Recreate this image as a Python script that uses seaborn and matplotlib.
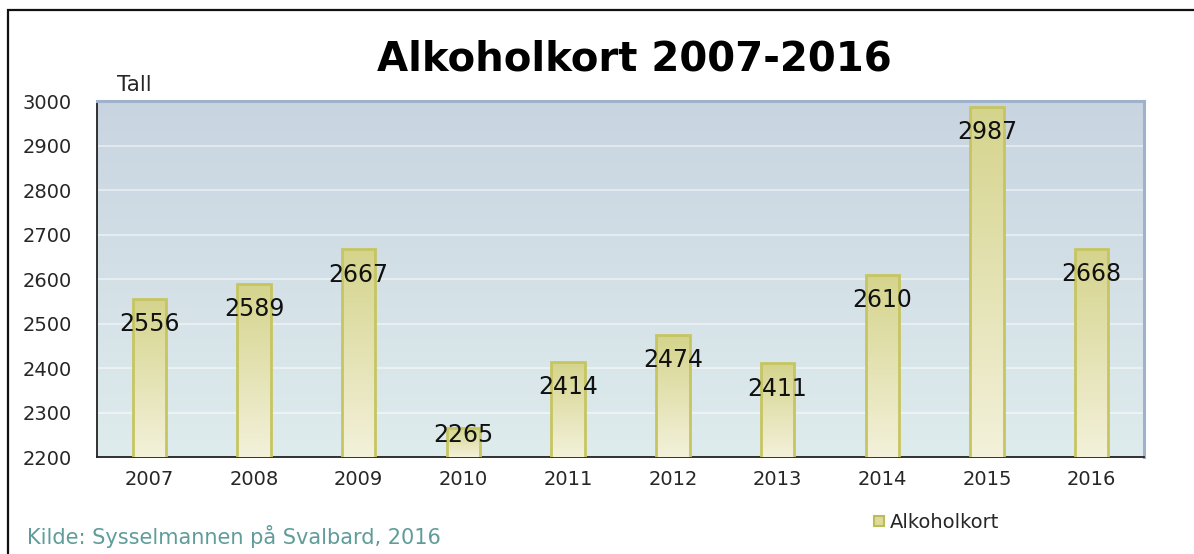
import numpy as np
import pandas as pd
import seaborn as sns
import matplotlib.pyplot as plt
from matplotlib.colors import LinearSegmentedColormap
from matplotlib.patches import Rectangle
from matplotlib.lines import Line2D

years = ["2007", "2008", "2009", "2010", "2011", "2012", "2013", "2014", "2015", "2016"]
alkoholkort = [2556, 2589, 2667, 2265, 2414, 2474, 2411, 2610, 2987, 2668]
y_ticks = [2200, 2300, 2400, 2500, 2600, 2700, 2800, 2900, 3000]

df = pd.DataFrame({"year": years, "count": alkoholkort})

sns.set_style("white")
plt.rcParams['font.family'] = ['DejaVu Sans']

fig = plt.figure(figsize=(11.94, 5.54), dpi=100)
ax = fig.add_axes([0.0812, 0.175, 0.877, 0.6426])

sns.barplot(data=df, x="year", y="count", ax=ax, width=0.32,
            color="#e0dea8", edgecolor="#c6c562", linewidth=2, zorder=3)

# background gradient of the plot area
bg = LinearSegmentedColormap.from_list("bg", ["#dfeced", "#c8d4e0"])
ax.imshow(np.linspace(0, 1, 256).reshape(-1, 1), cmap=bg, aspect="auto",
          origin="lower", extent=[-0.5, len(years) - 0.5, 2200, 3000], zorder=0)

for yv in y_ticks[1:-1]:
    ax.axhline(yv, color="white", alpha=0.55, lw=1.2, zorder=1)

# gradient fill for each bar
barcm = LinearSegmentedColormap.from_list("bar", ["#f3f1da", "#d5d48c"])
for p in ax.patches:
    x0, w, h = p.get_x(), p.get_width(), p.get_height()
    im = ax.imshow(np.linspace(0, 1, 256).reshape(-1, 1), cmap=barcm, aspect="auto",
                   origin="lower", extent=[x0, x0 + w, 2200, h], zorder=3.5)
    im.set_clip_path(p)
    p.set_facecolor("none")
    p.set_zorder(4)
ax.set_xlim(-0.5, len(years) - 0.5)
ax.set_ylim(2200, 3000)

# value labels near the bar tops
for i, v in enumerate(alkoholkort):
    ax.text(i, max(v - 57, 2250), str(v), ha="center", va="center",
            fontsize=17, color="#111111", zorder=6)

ax.set_yticks(y_ticks)
ax.set_yticklabels([str(t) for t in y_ticks], fontsize=14)
ax.set_xticks(range(len(years)))
ax.set_xticklabels(years, fontsize=14)
ax.set_xticks(np.arange(-0.5, len(years)), minor=True)
ax.tick_params(axis="x", which="major", length=0, pad=9)
ax.tick_params(axis="x", which="minor", length=7, width=1.2, color="#222222", direction="out")
ax.tick_params(axis="y", length=7, width=1.2, color="#222222", direction="out", pad=11)
ax.set_xlabel("")
ax.set_ylabel("")

for side in ["left", "bottom"]:
    ax.spines[side].set_color("#222222")
    ax.spines[side].set_linewidth(1.3)
    ax.spines[side].set_visible(True)
for side in ["top", "right"]:
    ax.spines[side].set_color("#9fb2c9")
    ax.spines[side].set_linewidth(2.2)
    ax.spines[side].set_visible(True)

fig.text(0.531, 0.893, "Alkoholkort 2007-2016", ha="center", va="center",
         fontsize=29, fontweight="bold", color="#000000")
fig.text(0.098, 0.847, "Tall", ha="left", va="center", fontsize=15.5)
fig.text(0.023, 0.031, "Kilde: Sysselmannen på Svalbard, 2016", ha="left",
         va="center", fontsize=15, color="#5f9c9a")

handle = Line2D([], [], marker="s", linestyle="none", markersize=7,
                markerfacecolor="#dcdb9a", markeredgecolor="#bcbc58", markeredgewidth=1.5)
fig.legend([handle], ["Alkoholkort"], loc="center left", bbox_to_anchor=(0.731, 0.057),
           frameon=False, fontsize=14, handlelength=0.6, handletextpad=0.3,
           borderpad=0, borderaxespad=0)

# outer frame of the picture
fig.patches.append(Rectangle((8 / 1194, -0.2), 1.2, 0.2 + (554 - 9.5) / 554,
                             transform=fig.transFigure, fill=False,
                             edgecolor="#111111", linewidth=1.6))

fig.savefig("out.png", dpi=100)
